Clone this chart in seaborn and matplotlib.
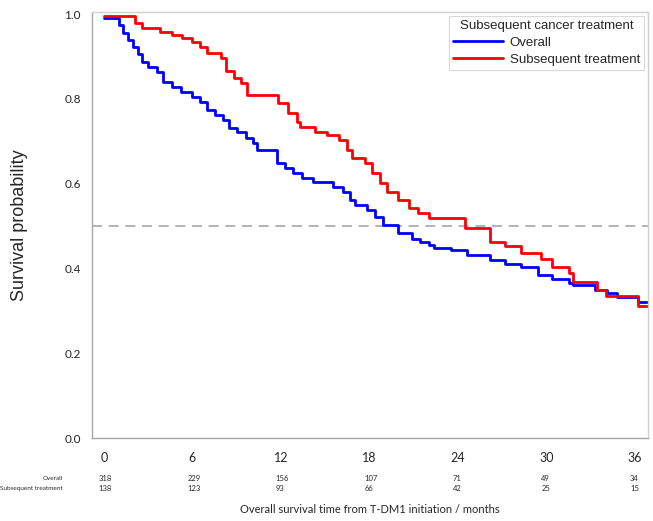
import numpy as np
import pandas as pd
import matplotlib
matplotlib.use("Agg")
import matplotlib.pyplot as plt
from matplotlib.lines import Line2D
import seaborn as sns

# step points (months, survival probability)
overall_t = [0, 1.0, 1.3, 1.6, 2.0, 2.3, 2.6, 3.0, 3.6, 4.0, 4.6, 5.2, 6.0, 6.5, 7.0,
             7.5, 8.1, 8.5, 9.0, 9.6, 10.1, 10.4, 11.7, 12.3, 12.8, 13.4, 14.2, 15.5,
             16.2, 16.7, 17.0, 17.8, 18.4, 18.9, 19.9, 20.9, 21.4, 22.0, 22.4, 23.5,
             24.6, 26.2, 27.2, 28.3, 29.4, 30.4, 31.5, 31.8, 33.3, 34.1, 34.8, 36.2, 36.9]
overall_s = [0.99, 0.975, 0.955, 0.94, 0.922, 0.905, 0.887, 0.875, 0.863, 0.84, 0.828,
             0.816, 0.804, 0.792, 0.774, 0.762, 0.75, 0.731, 0.722, 0.708, 0.696, 0.679,
             0.649, 0.637, 0.625, 0.613, 0.604, 0.592, 0.58, 0.561, 0.549, 0.538, 0.521,
             0.502, 0.483, 0.47, 0.462, 0.455, 0.448, 0.443, 0.432, 0.42, 0.41, 0.403,
             0.384, 0.375, 0.366, 0.361, 0.349, 0.342, 0.333, 0.321, 0.321]

subseq_t = [0, 2.1, 2.6, 3.8, 4.6, 5.3, 6.0, 6.5, 7.0, 7.9, 8.3, 8.8, 9.3, 9.7, 11.8,
            12.5, 13.1, 13.3, 14.3, 15.1, 15.9, 16.5, 16.8, 17.7, 18.2, 18.7, 19.2,
            19.9, 20.7, 21.3, 22.0, 24.5, 26.2, 27.2, 28.3, 29.6, 30.4, 31.5, 31.8,
            33.4, 34.0, 36.2, 36.9]
subseq_s = [0.995, 0.98, 0.967, 0.958, 0.95, 0.943, 0.934, 0.922, 0.908, 0.896, 0.865,
            0.849, 0.837, 0.809, 0.79, 0.766, 0.745, 0.733, 0.722, 0.715, 0.703, 0.679,
            0.66, 0.649, 0.625, 0.601, 0.58, 0.561, 0.542, 0.531, 0.519, 0.495, 0.462,
            0.453, 0.436, 0.422, 0.403, 0.389, 0.368, 0.349, 0.335, 0.311, 0.311]

groups = ["Overall", "Subsequent treatment"]
risk_times = [0, 6, 12, 18, 24, 30, 36]
overall_risk = [318, 229, 156, 107, 71, 49, 34]
subseq_risk = [138, 123, 93, 66, 42, 25, 15]

df = pd.concat([
    pd.DataFrame({"time": overall_t, "surv": overall_s, "group": groups[0]}),
    pd.DataFrame({"time": subseq_t, "surv": subseq_s, "group": groups[1]}),
])

sns.set_style("white")
plt.rcParams["font.family"] = ["Liberation Sans", "DejaVu Sans"]
colors = {"Overall": "#0000ff", "Subsequent treatment": "#ff0000"}

fig = plt.figure(figsize=(6.53, 5.21), dpi=100)
ax = fig.add_axes([0.1409, 0.1593, 0.8515, 0.8177])

sns.lineplot(data=df, x="time", y="surv", hue="group", palette=colors,
             estimator=None, sort=False, drawstyle="steps-post",
             linewidth=2.0, legend=False, ax=ax)
ax.axhline(0.5, color="#a6a6a6", linestyle=(0, (6, 4)), linewidth=1.2, zorder=0)

ax.set_xlim(-0.81, 36.88)
ax.set_ylim(0, 1.005)
ax.set_xticks(risk_times)
ax.set_yticks([0.0, 0.2, 0.4, 0.6, 0.8, 1.0])
ax.set_yticklabels(["0.0", "0.2", "0.4", "0.6", "0.8", "1.0"], family="Lato", fontsize=8.5)
ax.set_xticklabels([str(t) for t in risk_times], family="Lato", fontsize=9)
ax.tick_params(axis="x", direction="out", length=3, width=0.8, color="#a0a0a0", pad=7)
ax.tick_params(axis="y", direction="out", length=2, width=0.8, color="#a0a0a0", pad=6)
for side in ["left", "bottom"]:
    ax.spines[side].set_color("#a6a6a6")
    ax.spines[side].set_linewidth(1.0)
for side in ["top", "right"]:
    ax.spines[side].set_color("#d0d0d0")
    ax.spines[side].set_linewidth(1.0)
ax.set_xlabel("")
ax.set_ylabel("Survival probability", fontsize=13, labelpad=26)

handles = [Line2D([], [], color=colors[g], linewidth=2.0) for g in groups]
leg = ax.legend(handles, groups, title="Subsequent cancer treatment", loc="upper right",
                fontsize=9.5, title_fontsize=9.5, handlelength=3.8, handletextpad=0.5,
                borderaxespad=0.3, borderpad=0.3, labelspacing=0.35,
                frameon=True, fancybox=False, edgecolor="#d0d0d0")
leg.get_frame().set_linewidth(0.8)

# numbers at risk table
trans = ax.get_xaxis_transform()
for row, (name, vals) in enumerate([(groups[0], overall_risk), (groups[1], subseq_risk)]):
    yy = -0.095 - row * 0.023
    ax.text(-2.8, yy, name, transform=trans, ha="right", va="center",
            fontsize=4.6, family="Lato")
    for t, v in zip(risk_times, vals):
        ax.text(t - 0.35, yy, str(v), transform=trans, ha="left", va="center",
                fontsize=5.5, family="Lato")

ax.text(18, -0.168, "Overall survival time from T-DM1 initiation / months",
        transform=trans, ha="center", va="center", fontsize=8, family="Lato")

fig.savefig("out.png", dpi=100)
